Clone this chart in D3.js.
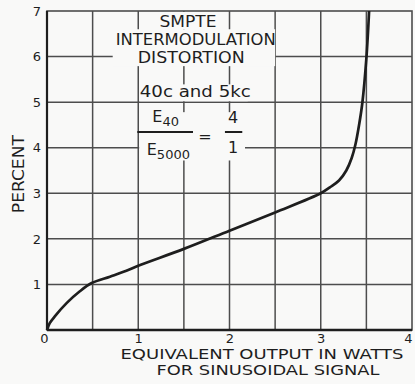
<!DOCTYPE html>
<html>
<head>
<meta charset="utf-8">
<script src="https://cdn.jsdelivr.net/npm/d3@7"></script>
<style>
  body { margin: 0; background: #f9f9f8; }
  text { font-family: "DejaVu Sans", "Liberation Sans", sans-serif; fill: #1e1e1e; }
</style>
</head>
<body>
<div id="chart"></div>
<script>
// distortion curve
const watts   = [0, 0.03, 0.09, 0.22, 0.36, 0.49, 0.69, 0.87, 1.0, 1.5, 2.0, 2.5, 3.0, 3.1, 3.2, 3.28, 3.34, 3.38, 3.42, 3.455, 3.5, 3.53];
const percent = [0, 0.15, 0.31, 0.6, 0.85, 1.03, 1.17, 1.3, 1.41, 1.78, 2.18, 2.58, 3.0, 3.13, 3.28, 3.5, 3.78, 4.07, 4.5, 4.97, 5.96, 7.0];

const xTicks = [0, 1, 2, 3, 4];
const yTicks = [1, 2, 3, 4, 5, 6, 7];
const xGrid = [0.5, 1, 1.5, 2, 2.5, 3, 3.5];
const yGrid = [1, 2, 3, 4, 5, 6];

const width = 415, height = 384;
const margin = {top: 11, right: 3, bottom: 54, left: 47};

const svg = d3.select('#chart')
              .append('svg')
              .attr('width', width)
              .attr('height', height);

let x = d3.scaleLinear().domain([0, 4]).range([margin.left, width - margin.right]);
let y = d3.scaleLinear().domain([0, 7]).range([height - margin.bottom, margin.top]);

const paper = '#f9f9f8', ink = '#1e1e1e', gridInk = '#4d4d4d';

// grid
svg.append('g').selectAll('line.v')
   .data(xGrid).enter().append('line')
   .attr('x1', d => x(d)).attr('x2', d => x(d))
   .attr('y1', y(0)).attr('y2', y(7))
   .style('stroke', gridInk).style('stroke-width', 1.5);

svg.append('g').selectAll('line.h')
   .data(yGrid).enter().append('line')
   .attr('x1', x(0)).attr('x2', x(4))
   .attr('y1', d => y(d)).attr('y2', d => y(d))
   .style('stroke', gridInk).style('stroke-width', 1.5);

// blank patches where the lettering sits on the grid
const patches = [
  [1.19, 1.92, 6.98, 6.6],
  [0.72, 2.5, 6.6, 5.79],
  [1.02, 2.2, 5.39, 5.02],
  [1.01, 2.17, 4.78, 3.72]
];
svg.append('g').selectAll('rect')
   .data(patches).enter().append('rect')
   .attr('x', d => x(d[0])).attr('width', d => x(d[1]) - x(d[0]))
   .attr('y', d => y(d[2])).attr('height', d => y(d[3]) - y(d[2]))
   .style('fill', paper);

// frame
svg.append('rect')
   .attr('x', x(0)).attr('y', y(7))
   .attr('width', x(4) - x(0)).attr('height', y(0) - y(7))
   .style('fill', 'none').style('stroke', gridInk).style('stroke-width', 1.6);
svg.append('line')
   .attr('x1', x(0)).attr('x2', x(4)).attr('y1', y(0)).attr('y2', y(0))
   .style('stroke', ink).style('stroke-width', 2.4);
svg.append('line')
   .attr('x1', x(0)).attr('x2', x(0)).attr('y1', y(0)).attr('y2', y(7))
   .style('stroke', ink).style('stroke-width', 2.2);

// tick labels
let xAxis = d3.axisBottom(x).tickValues(xTicks).tickSize(0).tickPadding(4).tickFormat(d3.format('d'));
let yAxis = d3.axisLeft(y).tickValues(yTicks).tickSize(0).tickPadding(6).tickFormat(d3.format('d'));

let xAxisGroup = svg.append('g')
                    .attr('transform', 'translate(0,' + y(0) + ')')
                    .call(xAxis);
let yAxisGroup = svg.append('g')
                    .attr('transform', 'translate(' + x(0) + ',0)')
                    .call(yAxis);
[xAxisGroup, yAxisGroup].forEach(g => {
  g.select('.domain').remove();
  g.selectAll('text').style('font-size', '13px').style('fill', ink)
   .attr('font-family', null);
});
xAxisGroup.selectAll('text').attr('dx', d => d == 0 ? -3 : (d == 4 ? -4 : 0));

// curve
let line = d3.line()
             .x((d, i) => x(watts[i]))
             .y(d => y(d))
             .curve(d3.curveCatmullRom.alpha(0.5));
svg.append('path')
   .datum(percent)
   .attr('d', line)
   .style('fill', 'none')
   .style('stroke', ink)
   .style('stroke-width', 2.7)
   .style('stroke-linejoin', 'round');

// axis titles
svg.append('text')
   .attr('transform', 'translate(24,' + y(3.42) + ') rotate(-90)')
   .style('text-anchor', 'middle')
   .style('font-size', '15px')
   .attr('textLength', 78).attr('lengthAdjust', 'spacingAndGlyphs')
   .text('PERCENT');

svg.append('text')
   .attr('x', 262).attr('y', 359)
   .style('text-anchor', 'middle').style('font-size', '14px')
   .attr('textLength', 283).attr('lengthAdjust', 'spacingAndGlyphs')
   .text('EQUIVALENT  OUTPUT IN WATTS');
svg.append('text')
   .attr('x', 268).attr('y', 375)
   .style('text-anchor', 'middle').style('font-size', '14px')
   .attr('textLength', 223).attr('lengthAdjust', 'spacingAndGlyphs')
   .text('FOR SINUSOIDAL SIGNAL');

// annotation
const notes = [
  ['SMPTE', 1.545, 6.65, 57],
  ['INTERMODULATION', 1.63, 6.25, 160],
  ['DISTORTION', 1.58, 5.86, 107],
  ['40c and 5kc', 1.625, 5.11, 111]
];
svg.append('g').selectAll('text')
   .data(notes).enter().append('text')
   .attr('x', d => x(d[1])).attr('y', d => y(d[2]))
   .attr('textLength', d => d[3]).attr('lengthAdjust', 'spacingAndGlyphs')
   .style('text-anchor', 'middle').style('font-size', '16px')
   .text(d => d[0]);

let num = svg.append('text')
             .attr('x', x(1.3)).attr('y', y(4.56))
             .style('text-anchor', 'middle').style('font-size', '16px');
num.append('tspan').text('E');
num.append('tspan').attr('dy', 4).style('font-size', '13px').text('40');

let den = svg.append('text')
             .attr('x', x(1.33)).attr('y', y(3.84))
             .style('text-anchor', 'middle').style('font-size', '16px');
den.append('tspan').text('E');
den.append('tspan').attr('dy', 4).style('font-size', '13px').text('5000');

svg.append('line')
   .attr('x1', x(0.99)).attr('x2', x(1.6)).attr('y1', y(4.345)).attr('y2', y(4.345))
   .style('stroke', ink).style('stroke-width', 2);
svg.append('line')
   .attr('x1', x(1.95)).attr('x2', x(2.14)).attr('y1', y(4.345)).attr('y2', y(4.345))
   .style('stroke', ink).style('stroke-width', 2);

svg.append('text')
   .attr('x', x(1.73)).attr('y', y(4.13))
   .style('text-anchor', 'middle').style('font-size', '16px')
   .text('=');
svg.append('text')
   .attr('x', x(2.04)).attr('y', y(4.54))
   .style('text-anchor', 'middle').style('font-size', '16px')
   .text('4');
svg.append('text')
   .attr('x', x(2.04)).attr('y', y(3.88))
   .style('text-anchor', 'middle').style('font-size', '16px')
   .text('1');
</script>
</body>
</html>
